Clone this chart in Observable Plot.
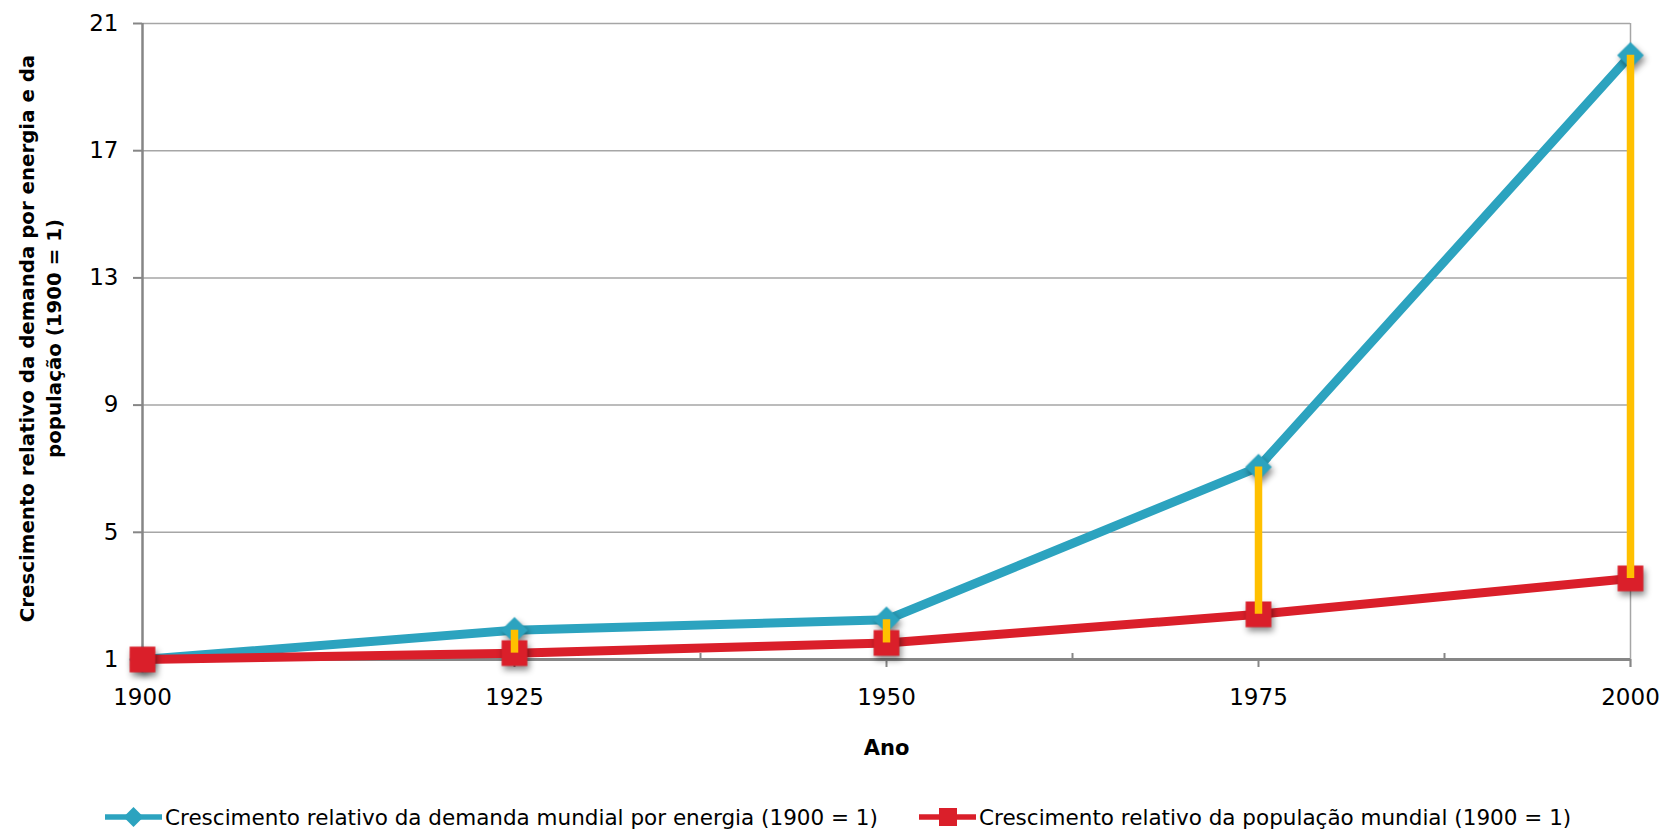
<!DOCTYPE html>
<html><head><meta charset="utf-8">
<script src="https://cdn.jsdelivr.net/npm/d3@7"></script>
<script src="https://cdn.jsdelivr.net/npm/@observablehq/plot@0.6"></script>
<style>
body{margin:0;background:#fff;font-family:"DejaVu Sans",sans-serif;}
#wrap{position:relative;width:1671px;height:831px;overflow:hidden;}
.leg{position:absolute;top:805px;height:24px;display:flex;align-items:center;font-size:21.5px;color:#000;white-space:nowrap;}
.leg svg{display:block;margin-right:3px;}
</style></head><body><div id="wrap"></div>
<script>
// ---- data ----
const years = [1900, 1925, 1950, 1975, 2000];
const energyDemand = [1, 1.92, 2.25, 7.05, 20.0];
const population = [1, 1.2, 1.52, 2.42, 3.55];
const xTicks = [1900, 1925, 1950, 1975, 2000];
const xMinorTicks = [1912.5, 1937.5, 1962.5, 1987.5];
const yTicks = [1, 5, 9, 13, 17, 21];
const seriesNames = [
  "Crescimento relativo da demanda mundial por energia (1900 = 1)",
  "Crescimento relativo da população mundial (1900 = 1)"
];
const xLabel = "Ano";
const yLabel = "Crescimento relativo da demanda por energia e da\npopulação (1900 = 1)";

// ---- styles ----
const BLUE = "#2CA3BF", RED = "#DA1F2A", GOLD = "#FFC000", AXIS = "#868686", GRID = "#A6A6A6";

const energyData = years.map((year, i) => ({year, value: energyDemand[i]}));
const popData = years.map((year, i) => ({year, value: population[i]}));
const drops = years.map((year, i) => ({year, hi: energyDemand[i], lo: population[i]}));

const chart = Plot.plot({
  width: 1671, height: 780,
  marginLeft: 142, marginRight: 41, marginTop: 23, marginBottom: 121,
  style: {fontFamily: '"DejaVu Sans", sans-serif', fontSize: "23px", color: "#000", background: "#fff", overflow: "visible"},
  x: {type: "linear", domain: [1900, 2000]},
  y: {type: "linear", domain: [1, 21]},
  marks: [
    Plot.ruleY(yTicks.filter(d => d > 1), {stroke: GRID, strokeWidth: 1.5}),
    Plot.ruleX([2000], {stroke: GRID, strokeWidth: 1.5, insetBottom: -8}),
    Plot.axisY({ticks: yTicks, tickSize: 9, tickPadding: 15, stroke: AXIS, strokeWidth: 2, fill: "#000", fontSize: 23, label: null}),
    Plot.axisX({ticks: xTicks, tickSize: 8, tickPadding: 21, tickFormat: d => String(d), stroke: AXIS, strokeWidth: 2, fill: "#000", fontSize: 23, label: null}),
    Plot.ruleX(xMinorTicks, {y1: 1, y2: 1, insetTop: -6, stroke: AXIS, strokeWidth: 2}),
    Plot.ruleX([1900], {stroke: AXIS, strokeWidth: 2.5}),
    Plot.ruleY([1], {stroke: AXIS, strokeWidth: 3}),
    Plot.line(energyData, {x: "year", y: "value", stroke: BLUE, strokeWidth: 9}),
    Plot.dot(energyData, {x: "year", y: "value", symbol: "diamond2", r: 12, fill: BLUE, stroke: null}),
    Plot.line(popData, {x: "year", y: "value", stroke: RED, strokeWidth: 9}),
    Plot.dot(popData, {x: "year", y: "value", symbol: "square", r: 14.5, fill: RED, stroke: null}),
    Plot.ruleX(drops, {x: "year", y1: "hi", y2: "lo", stroke: GOLD, strokeWidth: 7.5}),
    Plot.text([xLabel], {frameAnchor: "bottom", dy: 95, fontWeight: "bold", fontSize: 21}),
    Plot.text([yLabel], {frameAnchor: "left", dx: -104, dy: -3, rotate: -90, textAnchor: "middle", fontWeight: "bold", fontSize: 19.8, lineHeight: 1.38})
  ]
});
d3.select(chart).selectAll('g[aria-label="dot"]').style("filter", "drop-shadow(2px 4px 3px rgba(0,0,0,0.45))");
const wrap = document.getElementById("wrap");
wrap.appendChild(chart);

// ---- legend ----
function legendItem(left, name, color, shape) {
  const div = document.createElement("div");
  div.className = "leg";
  div.style.left = left + "px";
  const marker = shape === "diamond"
    ? `<path d="M28.5,2 L38.5,12 L28.5,22 L18.5,12Z" fill="${color}"/>`
    : `<rect x="20" y="3" width="18" height="18" fill="${color}"/>`;
  div.innerHTML = `<svg width="57" height="24"><line x1="0" y1="12" x2="57" y2="12" stroke="${color}" stroke-width="5.5"/>${marker}</svg><span></span>`;
  div.querySelector("span").textContent = name;
  wrap.appendChild(div);
}
legendItem(105, seriesNames[0], BLUE, "diamond");
legendItem(919, seriesNames[1], RED, "square");
</script>
</body></html>
